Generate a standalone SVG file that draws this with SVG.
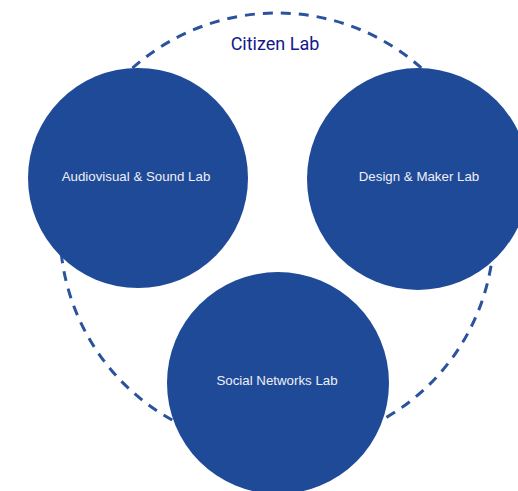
<svg xmlns="http://www.w3.org/2000/svg" width="518" height="491" viewBox="0 0 518 491">
<style>
.lab{fill:#1f4a98}
.lbl{font-family:"Liberation Sans",Arial,sans-serif;font-size:13.3px;fill:#eef0f6;text-anchor:middle}
.ring{fill:none;stroke:#2b529c;stroke-width:3;stroke-dasharray:10 8}
.title{font-family:"Roboto","Liberation Sans",sans-serif;font-size:18px;fill:#14188a;text-anchor:middle}
</style>
<rect width="518" height="491" fill="#ffffff"/>
<g id="citizen-lab">
<circle class="ring" cx="277" cy="230" r="217"/>
<text class="title" x="275" y="50">Citizen Lab</text>
</g>
<g id="connectors"></g>
<g id="audiovisual-sound-lab">
<circle class="lab" cx="138" cy="178" r="110"/>
<text class="lbl" x="136" y="181">Audiovisual &amp; Sound Lab</text>
</g>
<g id="design-maker-lab">
<circle class="lab" cx="418" cy="179" r="111"/>
<text class="lbl" x="419" y="181">Design &amp; Maker Lab</text>
</g>
<g id="social-networks-lab">
<circle class="lab" cx="278" cy="383" r="111"/>
<text class="lbl" x="277" y="385">Social Networks Lab</text>
</g>
</svg>
